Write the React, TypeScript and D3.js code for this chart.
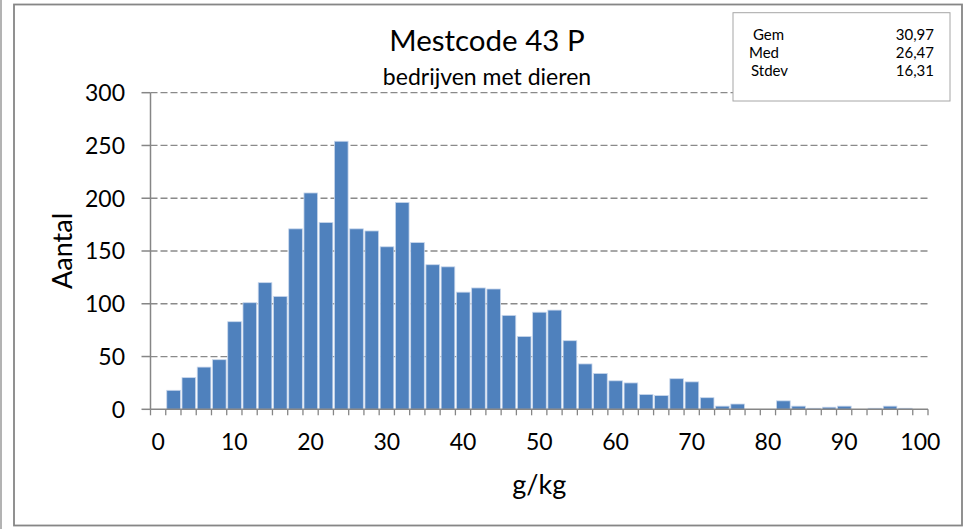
import React from "react";
import * as d3 from "d3";

const categories: number[] = d3.range(0, 101, 2);
const counts: number[] = [
  0, 18, 30, 40, 47, 83, 101, 120, 107, 171,
  205, 177, 254, 171, 169, 154, 196, 158, 137, 135,
  111, 115, 114, 89, 69, 92, 94, 65, 43, 34,
  27, 25, 14, 13, 29, 26, 11, 3, 5, 0,
  0, 8, 3, 1, 2, 3, 0, 1, 3, 1,
  0,
];
const xTickLabels: number[] = [0, 10, 20, 30, 40, 50, 60, 70, 80, 90, 100];
const yTicks: number[] = [0, 50, 100, 150, 200, 250, 300];
const statLabels: string[] = ["Gem", "Med", "Stdev"];
const statValues: string[] = ["30,97", "26,47", "16,31"];

const title = "Mestcode 43 P";
const subtitle = "bedrijven met dieren";
const xTitle = "g/kg";
const yTitle = "Aantal";

const W = 966;
const H = 529;
const FONT = "Lato, 'Open Sans', sans-serif";

export default function App() {
  const left = 150.5;
  const right = 928;
  const top = 92.7;
  const bottom = 409.3;

  const x = d3
    .scaleBand<number>()
    .domain(categories)
    .range([left, right])
    .paddingInner(0)
    .paddingOuter(0);
  const y = d3.scaleLinear().domain([0, 300]).range([bottom, top]);
  const bw = x.bandwidth();

  const axisColor = "#868686";
  const statX = [753, 749, 751];

  return (
    <svg
      width={W}
      height={H}
      style={{ position: "fixed", left: 0, top: 0, background: "#fff" }}
      fontFamily={FONT}
    >
      <rect x={0} y={0} width={W} height={H} fill="#fff" />
      <line x1={1} x2={1} y1={0} y2={H} stroke="#9a9a9a" strokeWidth={1.5} />
      <rect
        x={14}
        y={4.5}
        width={948}
        height={521}
        fill="#fff"
        stroke="#868686"
        strokeWidth={1.8}
      />

      {yTicks
        .filter((t) => t > 0)
        .map((t) => (
          <line
            key={"g" + t}
            x1={left}
            x2={right}
            y1={y(t)}
            y2={y(t)}
            stroke="#8a8a8a"
            strokeWidth={1.3}
            strokeDasharray="7,3"
          />
        ))}

      {categories.map((c, i) =>
        counts[i] > 0 ? (
          <rect
            key={"b" + c}
            x={(x(c) as number) + 1}
            y={y(counts[i])}
            width={bw - 1.6}
            height={y(0) - y(counts[i])}
            fill="#4F81BD"
            stroke="#c9d7ec"
            strokeWidth={0.8}
          />
        ) : null
      )}

      <line x1={left} x2={left} y1={top} y2={bottom} stroke={axisColor} strokeWidth={1.5} />
      {yTicks.map((t) => (
        <g key={"yt" + t}>
          <line x1={left - 9} x2={left} y1={y(t)} y2={y(t)} stroke={axisColor} strokeWidth={1.5} />
          <text
            x={125}
            y={y(t)}
            dy="0.36em"
            textAnchor="end"
            fontSize={23}
            fill="#000"
          >
            {t}
          </text>
        </g>
      ))}

      <line x1={left} x2={right} y1={bottom} y2={bottom} stroke={axisColor} strokeWidth={1.5} />
      {categories.map((c) => (
        <line
          key={"xt" + c}
          x1={(x(c) as number) + bw}
          x2={(x(c) as number) + bw}
          y1={bottom}
          y2={bottom + 6}
          stroke={axisColor}
          strokeWidth={1.3}
        />
      ))}
      <line x1={left} x2={left} y1={bottom} y2={bottom + 6} stroke={axisColor} strokeWidth={1.3} />
      {xTickLabels.map((v) => (
        <text
          key={"xl" + v}
          x={(x(v) as number) + bw / 2}
          y={450}
          textAnchor="middle"
          fontSize={23}
          fill="#000"
        >
          {v}
        </text>
      ))}

      <text x={(left + right) / 2} y={494} textAnchor="middle" fontSize={27} fill="#000">
        {xTitle}
      </text>
      <text
        transform={`translate(72, ${(top + bottom) / 2}) rotate(-90)`}
        textAnchor="middle"
        fontSize={27}
        fill="#000"
      >
        {yTitle}
      </text>

      <text x={487} y={51} textAnchor="middle" fontSize={29.5} fill="#000">
        {title}
      </text>
      <text x={487} y={85} textAnchor="middle" fontSize={23} fill="#000">
        {subtitle}
      </text>

      <rect x={733} y={12.7} width={217} height={88.3} fill="#fff" stroke="#a6a6a6" strokeWidth={1} />
      {statLabels.map((s, i) => (
        <g key={"s" + s}>
          <text x={statX[i]} y={39.5 + i * 18} fontSize={15} fill="#000">
            {s}
          </text>
          <text x={934} y={39.5 + i * 18} textAnchor="end" fontSize={15} fill="#000">
            {statValues[i]}
          </text>
        </g>
      ))}
    </svg>
  );
}
